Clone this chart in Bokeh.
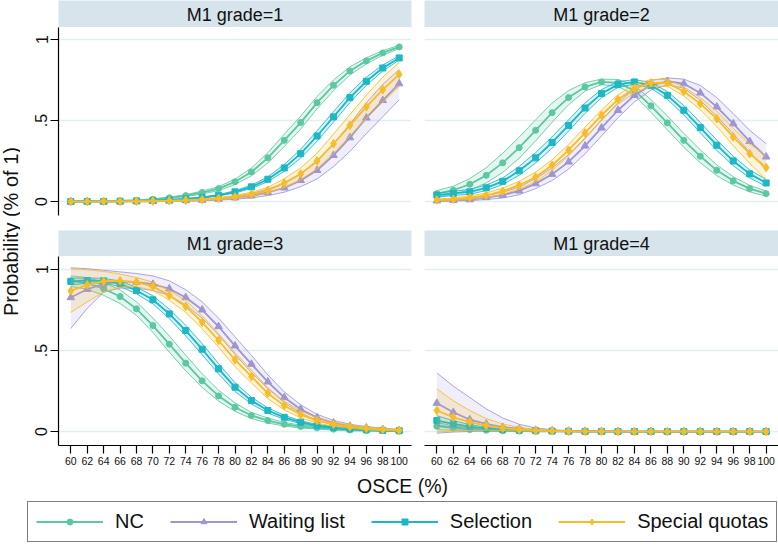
from math import pi
from bokeh.plotting import figure
from bokeh.models import Range1d, FixedTicker, LinearAxis, Grid, Label, Legend, LegendItem
from bokeh.layouts import row, column
from bokeh.embed import file_html
from bokeh.resources import INLINE

FONT = "Liberation Sans"

# ---------------- data ----------------
X = [60, 62, 64, 66, 68, 70, 72, 74, 76, 78, 80, 82, 84, 86, 88, 90, 92, 94, 96, 98, 100]
X_TICKS = [60, 62, 64, 66, 68, 70, 72, 74, 76, 78, 80, 82, 84, 86, 88, 90, 92, 94, 96, 98, 100]
Y_TICKS = [0, 0.5, 1]
Y_TICK_LABELS = ["0", ".5", "1"]
GROUPS = ["NC", "Waiting list", "Selection", "Special quotas"]
PANELS = ["M1 grade=1", "M1 grade=2", "M1 grade=3", "M1 grade=4"]

# M1 grade = 1
g1_nc    = [0.001,0.002,0.003,0.005,0.008,0.014,0.023,0.037,0.056,0.080,0.122,0.183,0.270,0.378,0.488,0.611,0.718,0.807,0.869,0.918,0.955]
g1_nc_lo = [0.000,0.001,0.002,0.004,0.006,0.011,0.019,0.031,0.047,0.068,0.105,0.159,0.238,0.340,0.448,0.573,0.685,0.782,0.850,0.904,0.945]
g1_nc_hi = [0.002,0.003,0.004,0.006,0.010,0.017,0.027,0.043,0.065,0.092,0.139,0.207,0.302,0.416,0.528,0.649,0.751,0.832,0.888,0.932,0.965]
g1_wl    = [0.000,0.000,0.000,0.001,0.001,0.002,0.004,0.006,0.009,0.015,0.023,0.036,0.056,0.085,0.131,0.193,0.286,0.395,0.517,0.625,0.728]
g1_wl_lo = [0.000,0.000,0.000,0.000,0.000,0.001,0.002,0.003,0.005,0.009,0.014,0.023,0.037,0.058,0.092,0.140,0.216,0.310,0.420,0.524,0.628]
g1_wl_hi = [0.001,0.001,0.001,0.002,0.003,0.004,0.006,0.009,0.014,0.022,0.033,0.050,0.077,0.114,0.172,0.249,0.356,0.480,0.610,0.724,0.815]
g1_se    = [0.000,0.001,0.001,0.002,0.004,0.006,0.010,0.016,0.025,0.039,0.060,0.091,0.138,0.208,0.296,0.405,0.523,0.642,0.743,0.825,0.887]
g1_se_lo = [0.000,0.000,0.000,0.001,0.003,0.005,0.008,0.014,0.022,0.035,0.053,0.081,0.123,0.187,0.269,0.373,0.491,0.612,0.718,0.806,0.874]
g1_se_hi = [0.001,0.002,0.002,0.003,0.005,0.007,0.012,0.018,0.028,0.043,0.067,0.101,0.153,0.229,0.323,0.437,0.555,0.672,0.768,0.844,0.900]
g1_sq    = [0.000,0.000,0.001,0.001,0.002,0.003,0.005,0.008,0.012,0.019,0.029,0.045,0.070,0.114,0.171,0.251,0.357,0.471,0.585,0.691,0.786]
g1_sq_lo = [0.000,0.000,0.000,0.001,0.001,0.002,0.003,0.005,0.008,0.013,0.020,0.032,0.052,0.087,0.134,0.203,0.297,0.405,0.512,0.614,0.710]
g1_sq_hi = [0.001,0.001,0.002,0.002,0.003,0.005,0.007,0.011,0.016,0.025,0.038,0.058,0.088,0.141,0.208,0.299,0.417,0.537,0.658,0.768,0.860]

# M1 grade = 2
g2_nc    = [0.049,0.070,0.107,0.162,0.239,0.333,0.440,0.549,0.642,0.708,0.739,0.733,0.687,0.591,0.486,0.378,0.280,0.193,0.128,0.080,0.049]
g2_nc_lo = [0.030,0.045,0.072,0.115,0.180,0.268,0.375,0.490,0.598,0.682,0.722,0.712,0.655,0.552,0.443,0.335,0.240,0.160,0.102,0.060,0.033]
g2_nc_hi = [0.068,0.095,0.142,0.209,0.298,0.398,0.505,0.608,0.686,0.734,0.756,0.754,0.719,0.630,0.529,0.421,0.320,0.226,0.154,0.100,0.065]
g2_wl    = [0.005,0.008,0.012,0.025,0.040,0.066,0.111,0.169,0.245,0.344,0.455,0.564,0.656,0.718,0.743,0.728,0.671,0.585,0.481,0.372,0.276]
g2_wl_lo = [0.001,0.003,0.005,0.013,0.022,0.042,0.080,0.130,0.200,0.295,0.405,0.518,0.615,0.688,0.722,0.700,0.625,0.528,0.418,0.305,0.195]
g2_wl_hi = [0.010,0.014,0.020,0.037,0.058,0.090,0.142,0.208,0.290,0.393,0.505,0.610,0.697,0.748,0.764,0.756,0.717,0.642,0.544,0.440,0.358]
g2_se    = [0.040,0.050,0.060,0.085,0.125,0.190,0.270,0.365,0.470,0.578,0.667,0.722,0.739,0.718,0.656,0.564,0.457,0.348,0.251,0.171,0.115]
g2_se_lo = [0.028,0.037,0.046,0.068,0.105,0.163,0.238,0.330,0.435,0.545,0.642,0.705,0.725,0.700,0.632,0.535,0.425,0.316,0.222,0.146,0.094]
g2_se_hi = [0.052,0.063,0.075,0.102,0.146,0.217,0.302,0.400,0.505,0.610,0.692,0.740,0.753,0.736,0.680,0.593,0.489,0.380,0.280,0.196,0.137]
g2_sq    = [0.010,0.015,0.025,0.039,0.064,0.101,0.152,0.224,0.317,0.424,0.533,0.630,0.698,0.733,0.733,0.680,0.605,0.512,0.399,0.296,0.210]
g2_sq_lo = [0.004,0.008,0.014,0.025,0.045,0.077,0.122,0.190,0.281,0.388,0.500,0.600,0.672,0.712,0.712,0.652,0.567,0.465,0.345,0.236,0.135]
g2_sq_hi = [0.016,0.022,0.036,0.053,0.083,0.125,0.182,0.258,0.353,0.460,0.566,0.660,0.724,0.754,0.754,0.708,0.643,0.559,0.453,0.356,0.285]

# M1 grade = 3
g3_nc    = [0.930,0.916,0.881,0.833,0.757,0.654,0.539,0.422,0.313,0.220,0.150,0.099,0.068,0.045,0.031,0.023,0.015,0.010,0.007,0.005,0.003]
g3_nc_lo = [0.895,0.878,0.840,0.790,0.717,0.612,0.490,0.375,0.272,0.187,0.125,0.080,0.053,0.034,0.022,0.015,0.009,0.005,0.003,0.002,0.001]
g3_nc_hi = [0.960,0.950,0.920,0.874,0.800,0.700,0.590,0.471,0.356,0.255,0.177,0.118,0.083,0.056,0.040,0.030,0.021,0.015,0.011,0.008,0.006]
g3_wl    = [0.827,0.878,0.911,0.926,0.922,0.909,0.881,0.827,0.751,0.648,0.529,0.416,0.307,0.210,0.138,0.086,0.054,0.034,0.023,0.014,0.008]
g3_wl_lo = [0.636,0.760,0.860,0.885,0.885,0.870,0.840,0.780,0.700,0.595,0.475,0.365,0.265,0.178,0.113,0.068,0.041,0.025,0.015,0.008,0.004]
g3_wl_hi = [1.010,1.005,0.995,0.985,0.975,0.960,0.930,0.875,0.800,0.700,0.585,0.470,0.350,0.245,0.165,0.106,0.069,0.045,0.031,0.021,0.013]
g3_se    = [0.926,0.932,0.930,0.912,0.870,0.813,0.726,0.623,0.508,0.387,0.274,0.191,0.130,0.088,0.058,0.037,0.025,0.017,0.011,0.007,0.005]
g3_se_lo = [0.905,0.915,0.915,0.895,0.850,0.788,0.697,0.590,0.474,0.355,0.247,0.170,0.114,0.076,0.049,0.030,0.019,0.012,0.007,0.004,0.002]
g3_se_hi = [0.946,0.948,0.945,0.929,0.890,0.838,0.755,0.656,0.542,0.419,0.301,0.212,0.146,0.100,0.067,0.044,0.031,0.022,0.015,0.010,0.008]
g3_sq    = [0.868,0.905,0.926,0.930,0.922,0.895,0.840,0.772,0.675,0.562,0.443,0.340,0.236,0.160,0.105,0.068,0.045,0.030,0.019,0.012,0.008]
g3_sq_lo = [0.735,0.800,0.860,0.890,0.895,0.870,0.810,0.735,0.635,0.520,0.400,0.300,0.203,0.133,0.085,0.052,0.033,0.020,0.011,0.006,0.003]
g3_sq_hi = [1.005,0.998,0.988,0.972,0.950,0.922,0.870,0.810,0.715,0.605,0.487,0.380,0.270,0.188,0.126,0.085,0.058,0.040,0.027,0.018,0.013]

# M1 grade = 4
g4_nc    = [0.033,0.021,0.012,0.008,0.005,0.003,0.002,0.001,0.001,0.000,0.000,0.000,0.000,0.000,0.000,0.000,0.000,0.000,0.000,0.000,0.000]
g4_nc_lo = [0.012,0.008,0.005,0.003,0.002,0.001,0.001,0.000,0.000,0.000,0.000,0.000,0.000,0.000,0.000,0.000,0.000,0.000,0.000,0.000,0.000]
g4_nc_hi = [0.055,0.036,0.022,0.014,0.009,0.006,0.004,0.002,0.001,0.001,0.000,0.000,0.000,0.000,0.000,0.000,0.000,0.000,0.000,0.000,0.000]
g4_wl    = [0.175,0.119,0.074,0.047,0.027,0.016,0.009,0.005,0.003,0.002,0.001,0.001,0.000,0.000,0.000,0.000,0.000,0.000,0.000,0.000,0.000]
g4_wl_lo = [-0.010,-0.003,0.001,0.004,0.004,0.003,0.002,0.001,0.001,0.000,0.000,0.000,0.000,0.000,0.000,0.000,0.000,0.000,0.000,0.000,0.000]
g4_wl_hi = [0.362,0.280,0.210,0.140,0.084,0.045,0.022,0.012,0.006,0.003,0.002,0.001,0.000,0.000,0.000,0.000,0.000,0.000,0.000,0.000,0.000]
g4_se    = [0.068,0.047,0.031,0.019,0.012,0.008,0.005,0.003,0.002,0.001,0.001,0.000,0.000,0.000,0.000,0.000,0.000,0.000,0.000,0.000,0.000]
g4_se_lo = [0.038,0.028,0.019,0.012,0.007,0.004,0.003,0.002,0.001,0.000,0.000,0.000,0.000,0.000,0.000,0.000,0.000,0.000,0.000,0.000,0.000]
g4_se_hi = [0.098,0.067,0.043,0.027,0.017,0.011,0.007,0.004,0.003,0.002,0.001,0.000,0.000,0.000,0.000,0.000,0.000,0.000,0.000,0.000,0.000]
g4_sq    = [0.130,0.088,0.058,0.037,0.021,0.012,0.007,0.004,0.002,0.001,0.001,0.000,0.000,0.000,0.000,0.000,0.000,0.000,0.000,0.000,0.000]
g4_sq_lo = [-0.003,0.004,0.008,0.008,0.006,0.004,0.002,0.001,0.001,0.000,0.000,0.000,0.000,0.000,0.000,0.000,0.000,0.000,0.000,0.000,0.000]
g4_sq_hi = [0.263,0.190,0.130,0.080,0.047,0.026,0.014,0.008,0.004,0.002,0.001,0.001,0.000,0.000,0.000,0.000,0.000,0.000,0.000,0.000,0.000]

# ---------------- style ----------------
COLORS = ["#5bc8a0", "#9d95d8", "#1db7c6", "#f8bc27"]
MARKERS = ["circle", "triangle", "square", "diamond"]
SIZES = [6, 7.5, 6, 8.5]
HEADER_BG = "#d8e4ec"
GRID_C = "#e4edf2"
X_RANGE = (58.5, 101.5)

panel_data = [
    [(g1_nc, g1_nc_lo, g1_nc_hi), (g1_wl, g1_wl_lo, g1_wl_hi), (g1_se, g1_se_lo, g1_se_hi), (g1_sq, g1_sq_lo, g1_sq_hi)],
    [(g2_nc, g2_nc_lo, g2_nc_hi), (g2_wl, g2_wl_lo, g2_wl_hi), (g2_se, g2_se_lo, g2_se_hi), (g2_sq, g2_sq_lo, g2_sq_hi)],
    [(g3_nc, g3_nc_lo, g3_nc_hi), (g3_wl, g3_wl_lo, g3_wl_hi), (g3_se, g3_se_lo, g3_se_hi), (g3_sq, g3_sq_lo, g3_sq_hi)],
    [(g4_nc, g4_nc_lo, g4_nc_hi), (g4_wl, g4_wl_lo, g4_wl_hi), (g4_se, g4_se_lo, g4_se_hi), (g4_sq, g4_sq_lo, g4_sq_hi)],
]
for pd_ in panel_data:
    for s in pd_:
        for arr in s:
            assert len(arr) == len(X), len(arr)


def blank(w, h, xr, yr, **kw):
    p = figure(width=w, height=h, x_range=Range1d(*xr), y_range=Range1d(*yr),
               x_axis_location=None, y_axis_location=None, toolbar_location=None,
               output_backend="svg", **kw)
    p.outline_line_color = None
    p.grid.visible = False
    p.border_fill_color = "white"
    p.background_fill_color = "white"
    return p


def make_header(text, left, h):
    p = blank(404 if left else 354, h, (0, 1), (0, 1),
              min_border_left=38 if left else 0, min_border_right=13 if left else 0,
              min_border_top=0, min_border_bottom=0)
    p.background_fill_color = HEADER_BG
    p.add_layout(Label(x=0.5, y=0.47, text=text, text_align="center", text_baseline="middle",
                       text_font=FONT, text_font_size="18px", text_color="#111111"))
    return p


def make_panel(series, left, bottom, yr):
    p = figure(width=404 if left else 354, height=214 if bottom else 203,
               x_range=Range1d(*X_RANGE), y_range=Range1d(*yr),
               x_axis_location=None, y_axis_location=None, toolbar_location=None,
               output_backend="svg",
               min_border_left=38 if left else 0, min_border_right=13 if left else 0,
               min_border_top=0, min_border_bottom=25 if bottom else 15)
    p.outline_line_color = None
    p.border_fill_color = "white"
    p.background_fill_color = "white"
    p.center = [r for r in p.center if not isinstance(r, Grid)]
    p.add_layout(Grid(dimension=1, ticker=FixedTicker(ticks=Y_TICKS),
                      grid_line_color=GRID_C, grid_line_width=1.5))
    if left:
        ax = LinearAxis(ticker=FixedTicker(ticks=Y_TICKS),
                        major_label_overrides={t: l for t, l in zip(Y_TICKS, Y_TICK_LABELS)},
                        major_label_orientation="vertical",
                        major_tick_out=8, major_tick_in=0, minor_tick_out=0, minor_tick_in=0,
                        major_label_standoff=3, axis_line_color="black", axis_line_width=1.2,
                        major_tick_line_color="black", major_tick_line_width=1.2,
                        major_label_text_font=FONT, major_label_text_font_size="16px",
                        major_label_text_color="#111111")
        p.add_layout(ax, "left")
    if bottom:
        ax = LinearAxis(ticker=FixedTicker(ticks=X_TICKS),
                        major_tick_out=8, major_tick_in=0, minor_tick_out=0, minor_tick_in=0,
                        major_label_standoff=3, axis_line_color="black", axis_line_width=1.2,
                        major_tick_line_color="black", major_tick_line_width=1.2,
                        major_label_text_font=FONT, major_label_text_font_size="10.5px",
                        major_label_text_color="#111111")
        p.add_layout(ax, "below")
    for i, (mean, lo, hi) in enumerate(series):
        c = COLORS[i]
        p.varea(x=X, y1=lo, y2=hi, fill_color=c, fill_alpha=0.16)
        p.line(X, lo, line_color=c, line_width=1, line_alpha=0.85)
        p.line(X, hi, line_color=c, line_width=1, line_alpha=0.85)
        p.line(X, mean, line_color=c, line_width=1.8)
        p.scatter(X, mean, marker=MARKERS[i], size=SIZES[i], fill_color=c, line_color=c)
    return p


YR_TOP = (-0.086, 1.075)
YR_BOT = (-0.086, 1.080)

h1 = make_header(PANELS[0], True, 27)
h2 = make_header(PANELS[1], False, 27)
h3 = make_header(PANELS[2], True, 26)
h4 = make_header(PANELS[3], False, 26)
p1 = make_panel(panel_data[0], True, False, YR_TOP)
p2 = make_panel(panel_data[1], False, False, YR_TOP)
p3 = make_panel(panel_data[2], True, True, YR_BOT)
p4 = make_panel(panel_data[3], False, True, YR_BOT)

# shared y-axis title
ylab = blank(20, 470, (0, 1), (0, 1), min_border_left=0, min_border_right=0,
             min_border_top=0, min_border_bottom=0)
ylab.add_layout(Label(x=0.5, y=1 - 231 / 470, text="Probability (% of 1)", angle=pi / 2,
                      text_align="center", text_baseline="middle",
                      text_font=FONT, text_font_size="20px", text_color="#111111"))

# x-axis title + legend (legend renderers use the series but sit below the visible range)
bot = blank(778, 75, (0, 778), (10, 85), min_border_left=0, min_border_right=0,
            min_border_top=0, min_border_bottom=0)
bot.add_layout(Label(x=402, y=70, text="OSCE (%)", text_align="center", text_baseline="middle",
                     text_font=FONT, text_font_size="19.5px", text_color="#111111"))
legend_series = [g1_nc, g1_wl, g1_se, g1_sq]
items = []
for i, name in enumerate(GROUPS):
    lr = bot.line(x=X, y=legend_series[i], line_color=COLORS[i], line_width=1.8)
    sr = bot.scatter(x=X, y=legend_series[i], marker=MARKERS[i], size=SIZES[i],
                     fill_color=COLORS[i], line_color=COLORS[i])
    items.append(LegendItem(label=name, renderers=[lr, sr], index=0))
leg = Legend(items=items, orientation="horizontal", location=(27, 3), margin=0, padding=8,
             spacing=26, label_standoff=12, glyph_width=67, glyph_height=15, label_height=20,
             label_text_font=FONT, label_text_font_size="20px", label_text_color="#111111",
             border_line_color="black", border_line_width=1.2,
             background_fill_color="white", background_fill_alpha=1)
bot.add_layout(leg, "center")

grid_col = column(row(h1, h2), row(p1, p2), row(h3, h4), row(p3, p4))
root = column(row(ylab, grid_col), bot)

open("out.html", "w").write(file_html(root, INLINE))
